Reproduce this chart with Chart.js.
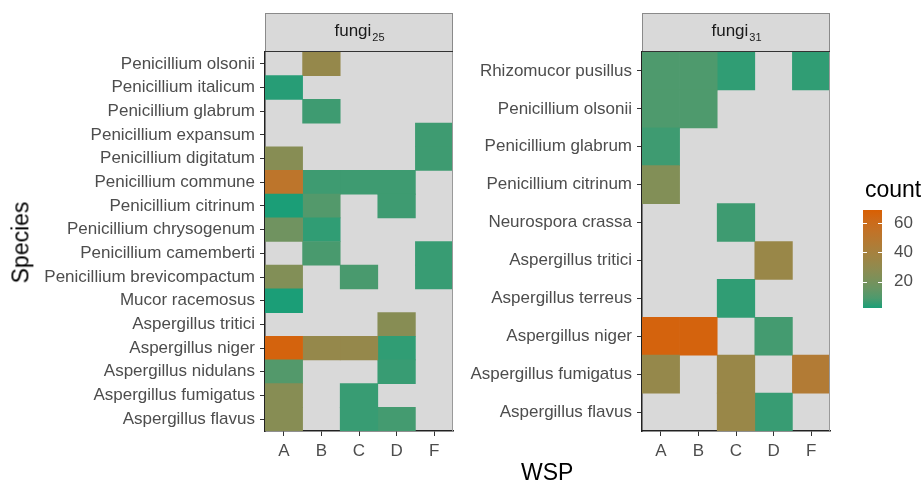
<!DOCTYPE html>
<html>
<head>
<meta charset="utf-8">
<script src="https://cdn.jsdelivr.net/npm/chart.js@4.4.0/dist/chart.umd.min.js"></script>
<style>
body{margin:0;background:#fff;}
#wrap{position:relative;width:922px;height:484px;overflow:hidden;font-family:"Liberation Sans",Arial,sans-serif;}
#wrap canvas{position:absolute;top:0;}
.ttl{position:absolute;font-size:23px;color:#000;white-space:nowrap;}
</style>
</head>
<body>
<div id="wrap">
  <canvas id="c25" width="460" height="484" style="left:0"></canvas>
  <canvas id="c31" width="390" height="484" style="left:455px"></canvas>
  <canvas id="cleg" width="72" height="484" style="left:850px"></canvas>
  <div class="ttl" style="left:521px;top:459px;">WSP</div>
  <div class="ttl" style="left:-20px;top:229px;transform:rotate(-90deg);">Species</div>
  <div class="ttl" style="left:865px;top:176px;">count</div>
</div>
<script>
// колонки (WSP)
const wsp = ['A', 'B', 'C', 'D', 'F'];

// fungi 25 - виды сверху вниз
const species25 = [
  'Penicillium olsonii', 'Penicillium italicum', 'Penicillium glabrum', 'Penicillium expansum',
  'Penicillium digitatum', 'Penicillium commune', 'Penicillium citrinum', 'Penicillium chrysogenum',
  'Penicillium camemberti', 'Penicillium brevicompactum', 'Mucor racemosus', 'Aspergillus tritici',
  'Aspergillus niger', 'Aspergillus nidulans', 'Aspergillus fumigatus', 'Aspergillus flavus'
];
const a25 = [null, 3, null, null, 26, 52, 2, 18, null, 24, 2, null, 66, 10, 26, 26];
const b25 = [32, null, 6, null, null, 6, 10, 4, 8, null, null, null, 32, null, null, null];
const c25 = [null, null, null, null, null, 6, null, null, null, 8, null, null, 32, null, 5, 5];
const d25 = [null, null, null, null, null, 6, 6, null, null, null, null, 26, 4, 5, null, 7];
const f25 = [null, null, null, 6, 6, null, null, null, 5, 5, null, null, null, null, null, null];

// fungi 31
const species31 = [
  'Rhizomucor pusillus', 'Penicillium olsonii', 'Penicillium glabrum', 'Penicillium citrinum',
  'Neurospora crassa', 'Aspergillus tritici', 'Aspergillus terreus', 'Aspergillus niger',
  'Aspergillus fumigatus', 'Aspergillus flavus'
];
const a31 = [9, 9, 6, 24, null, null, null, 66, 32, null];
const b31 = [9, 9, null, null, null, null, null, 66, null, null];
const c31 = [4, null, null, null, 6, null, 4, null, 34, 34];
const d31 = [null, null, null, null, null, 34, null, 7, null, 5];
const f31 = [4, null, null, null, null, null, null, null, 46, null];

// шкала цвета
const countMin = 2;
const countMax = 69;
const countTicks = [20, 40, 60];
const lowColor = '#1B9E77';
const highColor = '#D95F02';

// интерполяция в Lab как в ggplot
function hex2rgb(h) { return [1, 3, 5].map(i => parseInt(h.substr(i, 2), 16)); }
function toLab(rgb) {
  const lin = c => { c /= 255; return c <= 0.04045 ? c / 12.92 : Math.pow((c + 0.055) / 1.055, 2.4); };
  const [R, G, B] = rgb.map(lin);
  const X = (0.4124 * R + 0.3576 * G + 0.1805 * B) / 0.95047;
  const Y = 0.2126 * R + 0.7152 * G + 0.0722 * B;
  const Z = (0.0193 * R + 0.1192 * G + 0.9505 * B) / 1.08883;
  const f = t => t > 0.008856 ? Math.cbrt(t) : 7.787 * t + 16 / 116;
  return [116 * f(Y) - 16, 500 * (f(X) - f(Y)), 200 * (f(Y) - f(Z))];
}
function fromLab([L, a, b]) {
  const fy = (L + 16) / 116, fx = fy + a / 500, fz = fy - b / 200;
  const inv = t => t * t * t > 0.008856 ? t * t * t : (t - 16 / 116) / 7.787;
  const X = 0.95047 * inv(fx), Y = inv(fy), Z = 1.08883 * inv(fz);
  const g = c => { c = c <= 0.0031308 ? 12.92 * c : 1.055 * Math.pow(c, 1 / 2.4) - 0.055; return Math.round(Math.max(0, Math.min(1, c)) * 255); };
  return 'rgb(' + g(3.2406 * X - 1.5372 * Y - 0.4986 * Z) + ',' + g(-0.9689 * X + 1.8758 * Y + 0.0415 * Z) + ',' + g(0.0557 * X - 0.2040 * Y + 1.0570 * Z) + ')';
}
const labLow = toLab(hex2rgb(lowColor));
const labHigh = toLab(hex2rgb(highColor));
function countColor(v) {
  const t = Math.max(0, Math.min(1, (v - countMin) / (countMax - countMin)));
  return fromLab(labLow.map((l, i) => l + (labHigh[i] - l) * t));
}

const tickFont = { family: 'Liberation Sans', size: 17 };
const tickColor = '#4D4D4D';

// фон панели и заголовок-полоска
const panelPlugin = {
  id: 'panel',
  beforeDraw(chart) {
    const { ctx, chartArea: a } = chart;
    ctx.save();
    ctx.fillStyle = '#D9D9D9';
    ctx.fillRect(a.left, a.top, a.right - a.left, a.bottom - a.top);
    ctx.restore();
  },
  afterDraw(chart, args, opts) {
    const { ctx, chartArea: a } = chart;
    ctx.save();
    ctx.strokeStyle = '#9A9A9A';
    ctx.lineWidth = 1;
    ctx.strokeRect(a.right - 0.5, a.top, 0, a.bottom - a.top);
    // полоска
    ctx.fillStyle = '#D9D9D9';
    ctx.fillRect(a.left, 13, a.right - a.left, a.top - 13);
    ctx.strokeStyle = '#8A8A8A';
    ctx.strokeRect(a.left + 0.5, 13.5, a.right - a.left - 1, a.top - 14);
    ctx.strokeStyle = '#333';
    ctx.beginPath(); ctx.moveTo(a.left, a.top - 0.5); ctx.lineTo(a.right, a.top - 0.5); ctx.stroke();
    ctx.fillStyle = '#1A1A1A';
    ctx.font = '17px "Liberation Sans"';
    const w1 = ctx.measureText('fungi').width;
    ctx.font = '11px "Liberation Sans"';
    const w2 = ctx.measureText(opts.sub).width;
    const x0 = (a.left + a.right) / 2 - (w1 + w2) / 2;
    ctx.textBaseline = 'alphabetic';
    ctx.font = '17px "Liberation Sans"';
    ctx.fillText('fungi', x0, 36);
    ctx.font = '11px "Liberation Sans"';
    ctx.fillText(opts.sub, x0 + w1 + 1, 41);
    ctx.restore();
  }
};

function makeHeat(id, species, cols, sub, yWidth, padRight) {
  const datasets = cols.map((vals, i) => ({
    data: vals.map(v => v == null ? null : [i, i + 1]),
    backgroundColor: vals.map(v => v == null ? 'rgba(0,0,0,0)' : countColor(v)),
    borderWidth: 0,
    barPercentage: 1,
    categoryPercentage: 1,
    grouped: false
  }));
  return new Chart(document.getElementById(id), {
    type: 'bar',
    data: { labels: species, datasets: datasets },
    plugins: [panelPlugin],
    options: {
      responsive: false,
      animation: false,
      indexAxis: 'y',
      layout: { padding: { top: 52, right: padRight, left: 0, bottom: 0 } },
      plugins: { legend: { display: false }, tooltip: { enabled: false }, panel: { sub: sub } },
      scales: {
        x: {
          type: 'linear', min: 0, max: 5,
          afterBuildTicks: s => { s.ticks = wsp.map((w, i) => ({ value: i + 0.5 })); },
          afterFit: s => { s.height = 53; },
          ticks: { callback: (v, i) => wsp[i], font: tickFont, color: tickColor, padding: 5, autoSkip: false, maxRotation: 0 },
          grid: { drawOnChartArea: false, drawTicks: true, tickLength: 5, color: '#333' },
          border: { color: '#222', width: 1.5 }
        },
        y: {
          afterFit: s => { s.width = yWidth; },
          ticks: { font: tickFont, color: tickColor, padding: 5, autoSkip: false },
          grid: { drawOnChartArea: false, drawTicks: true, tickLength: 5, color: '#333', offset: false },
          border: { color: '#222', width: 1.5 }
        }
      }
    }
  });
}

makeHeat('c25', species25, [a25, b25, c25, d25, f25], '25', 265, 7);
makeHeat('c31', species31, [a31, b31, c31, d31, f31], '31', 187, 15);

// легенда: градиентная полоса
new Chart(document.getElementById('cleg'), {
  type: 'bar',
  data: {
    labels: ['count'],
    datasets: [{
      data: [[countMin, countMax]],
      barPercentage: 1, categoryPercentage: 1, borderWidth: 0,
      backgroundColor: ctx => {
        const a = ctx.chart.chartArea;
        if (!a) return lowColor;
        const g = ctx.chart.ctx.createLinearGradient(0, a.bottom, 0, a.top);
        for (let k = 0; k <= 10; k++) g.addColorStop(k / 10, countColor(countMin + (countMax - countMin) * k / 10));
        return g;
      }
    }]
  },
  plugins: [{
    id: 'barTicks',
    afterDatasetsDraw(chart) {
      const { ctx, chartArea: a, scales } = chart;
      ctx.save();
      ctx.strokeStyle = '#fff';
      ctx.lineWidth = 1;
      countTicks.forEach(t => {
        const y = Math.round(scales.y.getPixelForValue(t)) + 0.5;
        ctx.beginPath();
        ctx.moveTo(a.left, y); ctx.lineTo(a.left + 4, y);
        ctx.moveTo(a.right - 4, y); ctx.lineTo(a.right, y);
        ctx.stroke();
      });
      ctx.restore();
    }
  }],
  options: {
    responsive: false,
    animation: false,
    layout: { padding: { top: 210, bottom: 176, left: 13, right: 0 } },
    plugins: { legend: { display: false }, tooltip: { enabled: false } },
    scales: {
      x: { display: false },
      y: {
        position: 'right', min: countMin, max: countMax,
        afterBuildTicks: s => { s.ticks = countTicks.map(v => ({ value: v })); },
        afterFit: s => { s.width = 40; },
        ticks: { font: tickFont, color: tickColor, padding: 4 },
        grid: { display: false },
        border: { display: false }
      }
    }
  }
});
</script>
</body>
</html>
